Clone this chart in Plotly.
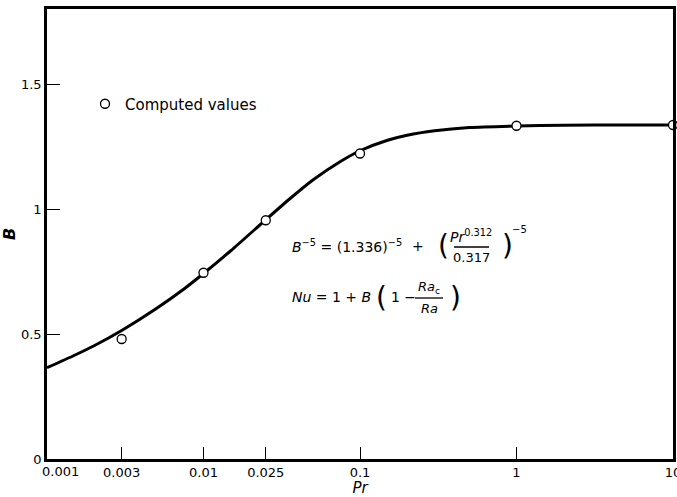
import plotly.graph_objects as go

# ---- data ----
pr_curve = [0.001, 0.0015, 0.002, 0.003, 0.005, 0.0075, 0.01, 0.015, 0.025, 0.035,
            0.05, 0.075, 0.1, 0.15, 0.2, 0.3, 0.5, 1, 2, 5, 10]
b_curve = [0.365, 0.415, 0.453, 0.514, 0.602, 0.68, 0.742, 0.834, 0.957, 1.037,
           1.116, 1.19, 1.233, 1.275, 1.295, 1.313, 1.326, 1.332, 1.335, 1.336, 1.336]

pr_points = [0.003, 0.01, 0.025, 0.1, 1, 10]
b_points = [0.48, 0.745, 0.955, 1.222, 1.333, 1.336]

x_tickvals = [0.001, 0.003, 0.01, 0.025, 0.1, 1, 10]
x_ticktext = ["", "0.003", "0.01", "0.025", "0.1", "1", "10"]
y_tickvals = [0, 0.5, 1, 1.5]
y_ticktext = ["0", "0.5", "1", "1.5"]

W, H = 677, 497
L, R, T, B = 47, 4, 9, 38
FONT = "DejaVu Sans"


def px(x):
    return (x - L) / (W - L - R)


def py(y):
    return (H - B - y) / (H - T - B)


fig = go.Figure()
fig.add_trace(go.Scatter(
    x=pr_curve, y=b_curve, mode="lines", line=dict(color="black", width=3, shape="spline", smoothing=0.6),
    showlegend=False, hoverinfo="skip"))
fig.add_trace(go.Scatter(
    x=pr_points, y=b_points, mode="markers", name="Computed values",
    marker=dict(symbol="circle", size=9, color="white", line=dict(color="black", width=1.3)),
    cliponaxis=False, showlegend=True))

ann = []


def add(text, x, y, size=14, xanchor="left", yanchor="middle"):
    ann.append(dict(text=text, x=px(x), y=py(y), xref="paper", yref="paper",
                    showarrow=False, xanchor=xanchor, yanchor=yanchor,
                    font=dict(family=FONT, size=size, color="black")))


# x tick label 0.001 shifted right like the reference
ann.append(dict(text="0.001", x=-3, y=0, xref="x", yref="paper", yanchor="top",
                xanchor="center", xshift=13, yshift=-3, showarrow=False,
                font=dict(family=FONT, size=13, color="black")))

# equation 1
add("<i>B</i><sup>−5</sup> = (1.336)<sup>−5</sup>", 290, 246)
add("+", 410, 246)
add("(", 436, 246, size=28)
add("<i>Pr</i><sup>0.312</sup>", 471, 236, xanchor="center")
add("0.317", 471, 257, xanchor="center", size=13)
add(")", 500, 246, size=28)
add("−5", 510, 229, size=10)

# equation 2
add("<i>Nu</i> = 1 + <i>B</i>", 290, 297)
add("(", 374, 297, size=28)
add("1 −", 389, 297)
add("<i>Ra</i><sub>c</sub>", 429, 287, xanchor="center", size=13)
add("<i>Ra</i>", 429, 308, xanchor="center", size=13)
add(")", 448, 297, size=28)

shapes = [
    dict(type="line", xref="paper", yref="paper", x0=px(454), x1=px(489), y0=py(247), y1=py(247),
         line=dict(color="black", width=1.3)),
    dict(type="line", xref="paper", yref="paper", x0=px(415), x1=px(443), y0=py(298), y1=py(298),
         line=dict(color="black", width=1.3)),
]

fig.update_layout(
    width=W, height=H,
    margin=dict(l=L, r=R, t=T, b=B, autoexpand=False),
    paper_bgcolor="white", plot_bgcolor="white",
    font=dict(family=FONT, size=13, color="black"),
    annotations=ann, shapes=shapes,
    legend=dict(x=px(85), y=py(104), xanchor="left", yanchor="middle",
                bgcolor="rgba(0,0,0,0)", itemwidth=30,
                font=dict(family=FONT, size=15, color="black")),
    xaxis=dict(type="log", range=[-3, 1], tickvals=x_tickvals, ticktext=x_ticktext,
               ticks="inside", ticklen=12, tickwidth=1.3, tickcolor="black",
               showgrid=False, zeroline=False, showline=True, linecolor="black", linewidth=2.5,
               mirror=True, tickfont=dict(family=FONT, size=13), automargin=False,
               ticklabeloverflow="allow",
               title=dict(text="<i>Pr</i>", font=dict(family=FONT, size=15), standoff=2)),
    yaxis=dict(range=[0, 1.8], tickvals=y_tickvals, ticktext=y_ticktext,
               ticks="inside", ticklen=13, tickwidth=1.3, tickcolor="black",
               showgrid=False, zeroline=False, showline=True, linecolor="black", linewidth=2.5,
               mirror=True, tickfont=dict(family=FONT, size=13), automargin=False,
               title=dict(text="<b><i>B</i></b>", font=dict(family=FONT, size=16), standoff=14)),
)

fig.write_html("out.html")
